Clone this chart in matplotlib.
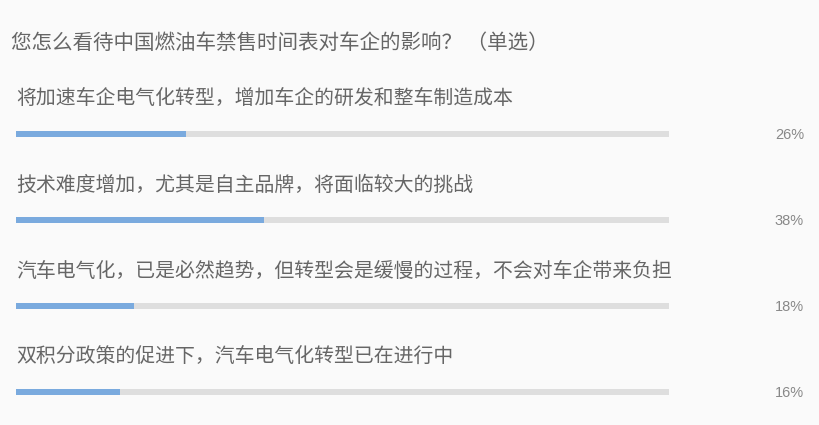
import matplotlib
matplotlib.use("Agg")
import matplotlib.pyplot as plt

plt.rcParams['font.family'] = ['Noto Sans CJK SC', 'DejaVu Sans']

title = "您怎么看待中国燃油车禁售时间表对车企的影响？ （单选）"
categories = [
    "将加速车企电气化转型，增加车企的研发和整车制造成本",
    "技术难度增加，尤其是自主品牌，将面临较大的挑战",
    "汽车电气化，已是必然趋势，但转型会是缓慢的过程，不会对车企带来负担",
    "双积分政策的促进下，汽车电气化转型已在进行中",
]
values = [26, 38, 18, 16]
pct_labels = ["26%", "38%", "18%", "16%"]

W, H = 820, 425
fig = plt.figure(figsize=(W / 100, H / 100), dpi=100)
fig.patch.set_facecolor("#fafafa")
ax = fig.add_axes([0, 0, 1, 1])
ax.set_facecolor("#fafafa")

# data units: 0..100 maps to pixels 16..669
x0, x1 = 16, 669
scale = (x1 - x0) / 100.0
ax.set_xlim(-x0 / scale, (W - x0) / scale)
ax.set_ylim(H, 0)
ax.axis("off")

ax.text(-x0 / scale + 11 / scale, 43, title, fontsize=14.8, color="#666666",
        va="center", ha="left")

bar_h = 6
for i, (cat, v, lab) in enumerate(zip(categories, values, pct_labels)):
    yc = 134 + i * 86
    ax.barh(yc, 100, height=bar_h, left=0, color="#dedede")
    ax.barh(yc, v, height=bar_h, left=0, color="#7aaade")
    ax.text(0, yc - 35, cat, fontsize=14.3, color="#666666", va="center", ha="left")
    ax.text((804 - x0) / scale, yc + 1, lab, fontsize=10.5, color="#888888",
            va="center", ha="right", family="Liberation Sans")

fig.savefig("out.png", dpi=100, facecolor=fig.get_facecolor())
